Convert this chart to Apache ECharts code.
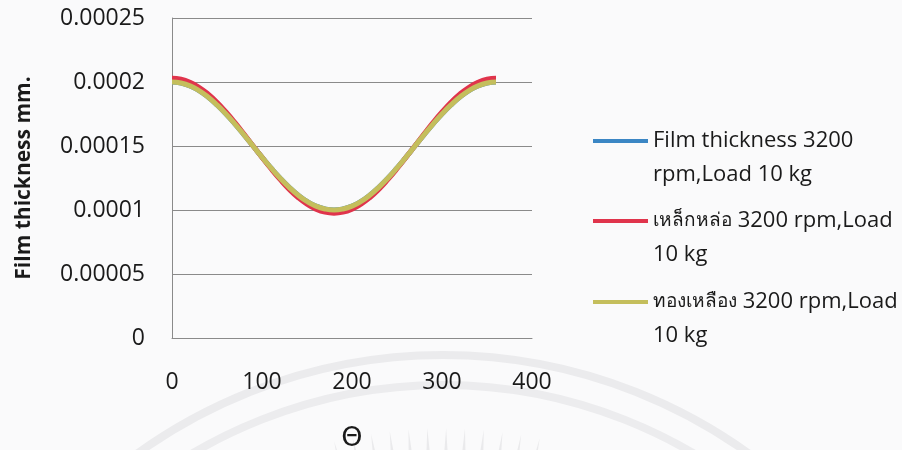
<!DOCTYPE html>
<html>
<head>
<meta charset="utf-8">
<script src="https://cdn.jsdelivr.net/npm/echarts@6/dist/echarts.min.js"></script>
<style>
  html, body { margin: 0; padding: 0; background: #fafafb; }
  #chart { width: 902px; height: 450px; }
</style>
</head>
<body>
<div id="chart"></div>
<script>
// Crank angle θ (degrees)
const theta = [0, 10, 20, 30, 40, 50, 60, 70, 80, 90, 100, 110, 120, 130, 140, 150, 160, 170, 180,
  190, 200, 210, 220, 230, 240, 250, 260, 270, 280, 290, 300, 310, 320, 330, 340, 350, 360];

// Film thickness (mm), plain bearing
const filmThickness = [0.0002000, 0.0001992, 0.0001970, 0.0001933, 0.0001883, 0.0001821, 0.0001750,
  0.0001671, 0.0001587, 0.0001500, 0.0001413, 0.0001329, 0.0001250, 0.0001179, 0.0001117, 0.0001067,
  0.0001030, 0.0001008, 0.0001000, 0.0001008, 0.0001030, 0.0001067, 0.0001117, 0.0001179, 0.0001250,
  0.0001329, 0.0001413, 0.0001500, 0.0001587, 0.0001671, 0.0001750, 0.0001821, 0.0001883, 0.0001933,
  0.0001970, 0.0001992, 0.0002000];

// Film thickness (mm), cast iron
const castIron = [0.0002030, 0.0002022, 0.0001998, 0.0001959, 0.0001907, 0.0001842, 0.0001766,
  0.0001683, 0.0001594, 0.0001502, 0.0001411, 0.0001322, 0.0001239, 0.0001163, 0.0001098, 0.0001046,
  0.0001007, 0.0000983, 0.0000975, 0.0000983, 0.0001007, 0.0001046, 0.0001098, 0.0001163, 0.0001239,
  0.0001322, 0.0001411, 0.0001502, 0.0001594, 0.0001683, 0.0001766, 0.0001842, 0.0001907, 0.0001959,
  0.0001998, 0.0002022, 0.0002030];

// Film thickness (mm), brass
const brass = [0.0002000, 0.0001992, 0.0001970, 0.0001933, 0.0001883, 0.0001821, 0.0001750,
  0.0001671, 0.0001587, 0.0001500, 0.0001413, 0.0001329, 0.0001250, 0.0001179, 0.0001117, 0.0001067,
  0.0001030, 0.0001008, 0.0001000, 0.0001008, 0.0001030, 0.0001067, 0.0001117, 0.0001179, 0.0001250,
  0.0001329, 0.0001413, 0.0001500, 0.0001587, 0.0001671, 0.0001750, 0.0001821, 0.0001883, 0.0001933,
  0.0001970, 0.0001992, 0.0002000];

const yTickLabels = ['0', '0.00005', '0.0001', '0.00015', '0.0002', '0.00025'];
const xTickLabels = ['0', '100', '200', '300', '400'];

const seriesNames = [
  'Film thickness 3200 rpm,Load 10 kg',
  'เหล็กหล่อ 3200 rpm,Load 10 kg',
  'ทองเหลือง 3200 rpm,Load 10 kg'
];
// Legend text, wrapped over two lines; Thai words set in a smaller face
const legendText = [
  'Film thickness 3200\nrpm,Load 10 kg',
  '{th|เหล็กหล่อ} 3200 rpm,Load\n10 kg',
  '{th|ทองเหลือง} 3200 rpm,Load\n10 kg'
];
const colors = ['#3b86c4', '#e0344c', '#c4be5c'];
const values = [filmThickness, castIron, brass];

const FONT = '"Open Sans", "Noto Sans", sans-serif';

const chart = echarts.init(document.getElementById('chart'), null, { renderer: 'canvas' });

const legendTops = [90, 170, 251];

// Faint seal watermark behind the chart: two rings and a fan of rays
const SEAL = { cx: 443, cy: 878 };
const watermark = [
  { r: 523, w: 8, c: '#ebebed' },
  { r: 493, w: 8, c: '#ececee' }
].map(ring => ({
  type: 'arc', z: -10, silent: true,
  shape: { cx: SEAL.cx, cy: SEAL.cy, r: ring.r, startAngle: Math.PI, endAngle: 2 * Math.PI },
  style: { fill: 'none', stroke: ring.c, lineWidth: ring.w }
}));
for (let a = -14; a <= 14.01; a += 2.4) {
  const rad = (a - 90) * Math.PI / 180;
  const rOut = 450, rIn = 400, half = 0.5 * Math.PI / 180;
  const p = (r, ang) => [SEAL.cx + r * Math.cos(ang), SEAL.cy + r * Math.sin(ang)];
  watermark.push({
    type: 'polygon', z: -10, silent: true,
    shape: { points: [p(rOut, rad), p(rIn, rad - half), p(rIn, rad + half)] },
    style: { fill: '#eaeaec' }
  });
}

chart.setOption({
  backgroundColor: '#fafafb',
  animation: false,
  grid: { left: 172, right: 370, top: 18, bottom: 112, outerBoundsMode: 'none', containLabel: false },
  xAxis: {
    type: 'value',
    min: 0, max: 400, interval: 100,
    name: 'Θ',
    nameLocation: 'middle',
    nameGap: 87,
    nameTextStyle: { fontFamily: '"DejaVu Sans", sans-serif', fontSize: 27, color: '#1a1a1a' },
    axisLine: { show: true, lineStyle: { color: '#8a8a8a', width: 1 } },
    axisTick: { show: false },
    splitLine: { show: false },
    axisLabel: {
      margin: 33,
      fontFamily: FONT, fontSize: 23, color: '#1a1a1a',
      formatter: (v, i) => xTickLabels[i]
    }
  },
  yAxis: {
    type: 'value',
    min: 0, max: 0.00025, interval: 0.00005,
    name: 'Film thickness mm.',
    nameLocation: 'middle',
    nameGap: 137,
    nameRotate: 90,
    nameTextStyle: { fontFamily: FONT, fontSize: 21, fontWeight: 'bold', color: '#1a1a1a' },
    axisLine: { show: true, lineStyle: { color: '#8a8a8a', width: 1 } },
    axisTick: { show: false },
    splitLine: { show: true, lineStyle: { color: '#8a8a8a', width: 1 } },
    axisLabel: {
      margin: 27,
      fontFamily: FONT, fontSize: 23, color: '#1a1a1a',
      formatter: (v, i) => yTickLabels[i]
    }
  },
  legend: seriesNames.map((name, i) => ({
    data: [name],
    orient: 'vertical',
    left: 593,
    top: legendTops[i],
    padding: 0,
    itemWidth: 55,
    itemHeight: 4,
    icon: 'rect',
    itemStyle: { color: colors[i] },
    selectedMode: false,
    formatter: () => ' \n' + legendText[i],
    textStyle: {
      fontFamily: FONT, fontSize: 22, color: '#1a1a1a', lineHeight: 34,
      rich: { th: { fontFamily: FONT, fontSize: 19, color: '#1a1a1a', lineHeight: 34 } }
    }
  })),
  graphic: watermark,
  series: seriesNames.map((name, i) => ({
    name,
    type: 'line',
    smooth: true,
    symbol: 'none',
    data: theta.map((t, k) => [t, values[i][k]]),
    lineStyle: { color: colors[i], width: 5 },
    itemStyle: { color: colors[i] },
    z: 2 + i
  }))
});
</script>
</body>
</html>
